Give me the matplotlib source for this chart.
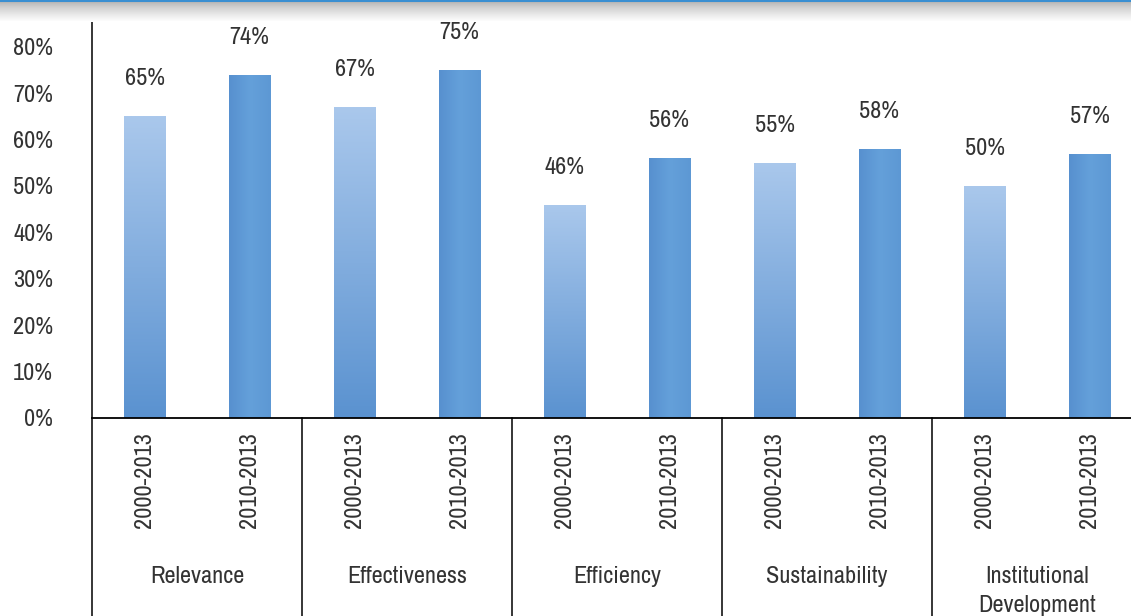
import numpy as np
import matplotlib.pyplot as plt
import matplotlib.colors as mcolors
from matplotlib import font_manager
from matplotlib.patches import Rectangle

# ── Data ──────────────────────────────────────────────────────────────────────
CATEGORIES = ["Relevance", "Effectiveness", "Efficiency", "Sustainability",
              "Institutional\nDevelopment"]
PERIODS = ["2000-2013", "2010-2013"]
EARLY = [65, 67, 46, 55, 50]   # 2000-2013, %
LATE = [74, 75, 56, 58, 57]    # 2010-2013, %
YTICKS = [0, 10, 20, 30, 40, 50, 60, 70, 80]

# ── Fonts: narrow sans if one is available ────────────────────────────────────
names = {f.name for f in font_manager.fontManager.ttflist}
FONT = next((n for n in ["Liberation Sans Narrow", "Archivo Narrow", "Roboto Condensed",
                         "Barlow Semi Condensed", "Asap Condensed"] if n in names),
            "Liberation Sans")
plt.rcParams["font.family"] = [FONT, "DejaVu Sans"]
TXT = "#333333"
FS = 17.5

W, H, DPI = 1131, 616, 100
fig = plt.figure(figsize=(W / DPI, H / DPI), dpi=DPI)
fig.patch.set_facecolor("white")

# plot area in pixel terms
x0, x1 = 92, 1142
y_base, y_top = 418, 16
ax = fig.add_axes([x0 / W, (H - y_base) / H, (x1 - x0) / W, (y_base - y_top) / H])
ymax = (y_base - y_top) / 46.4 * 10
ax.set_xlim(-0.5, 9.5)
ax.set_ylim(0, ymax)

BAR_W = 0.4
early_cmap = mcolors.LinearSegmentedColormap.from_list("early", ["#5a92d0", "#aac8ec"])
late_cmap = mcolors.LinearSegmentedColormap.from_list("late", ["#5790cf", "#64a0da", "#5d98d4"])


def gradient_bar(x, h, cmap, vertical):
    rect = Rectangle((x - BAR_W / 2, 0), BAR_W, h, facecolor="none", edgecolor="none")
    ax.add_patch(rect)
    if vertical:
        grad = np.linspace(0, 1, 256).reshape(-1, 1)
    else:
        grad = np.linspace(0, 1, 256).reshape(1, -1)
    im = ax.imshow(grad, cmap=cmap, aspect="auto", origin="lower",
                   extent=(x - BAR_W / 2, x + BAR_W / 2, 0, h), zorder=2)
    im.set_clip_path(rect)


for i in range(len(CATEGORIES)):
    xe, xl = 2 * i, 2 * i + 1
    gradient_bar(xe, EARLY[i], early_cmap, True)
    gradient_bar(xl, LATE[i], late_cmap, False)
    for xv, v in ((xe, EARLY[i]), (xl, LATE[i])):
        ax.annotate(f"{v}%", (xv, v), xytext=(0, 27), textcoords="offset points",
                    ha="center", va="center", fontsize=FS, color=TXT)

# ── Axes styling ──────────────────────────────────────────────────────────────
for s in ("top", "right", "left", "bottom"):
    ax.spines[s].set_visible(False)
ax.set_yticks(YTICKS)
ax.set_yticklabels([f"{t}%" for t in YTICKS], fontsize=FS, color=TXT)
ax.tick_params(axis="y", length=0, pad=28)
ax.set_xticks([])

# baseline, left axis line extended down through category area, group separators
drop = -(H - y_base) / (y_base - y_top)
tr = ax.get_xaxis_transform()
ax.plot([-0.5, 9.5], [0, 0], transform=tr, color="black", lw=1.3, clip_on=False, zorder=3)
for xs in [-0.5, 1.5, 3.5, 5.5, 7.5]:
    top = 1 if xs == -0.5 else 0
    ax.plot([xs, xs], [drop, top], transform=tr, color="black", lw=1.1,
            clip_on=False, zorder=3)

# period and category labels under the axis
for i, cat in enumerate(CATEGORIES):
    for j, per in enumerate(PERIODS):
        ax.text(2 * i + j, -14 / (y_base - y_top), per, transform=tr, rotation=90,
                ha="center", va="top", fontsize=FS, color=TXT)
    ax.text(2 * i + 0.5, -148 / (y_base - y_top), cat, transform=tr,
            ha="center", va="top", fontsize=FS, color=TXT, linespacing=1.45)

# ── Header band with drop shadow ──────────────────────────────────────────────
hax = fig.add_axes([0, 1 - 22 / H, 1, 22 / H])
hax.set_axis_off()
shade = np.ones((22, 1, 3))
for r in range(22):
    if r < 2:
        shade[r, 0] = mcolors.to_rgb("#3a8fd2")
    else:
        t = (r - 2) / 19
        g = 0.72 + 0.28 * t ** 0.8
        shade[r, 0] = (g, g, g)
hax.imshow(shade, aspect="auto", extent=(0, 1, 0, 1), interpolation="bilinear")

fig.savefig("out.png", dpi=DPI, facecolor="white")
